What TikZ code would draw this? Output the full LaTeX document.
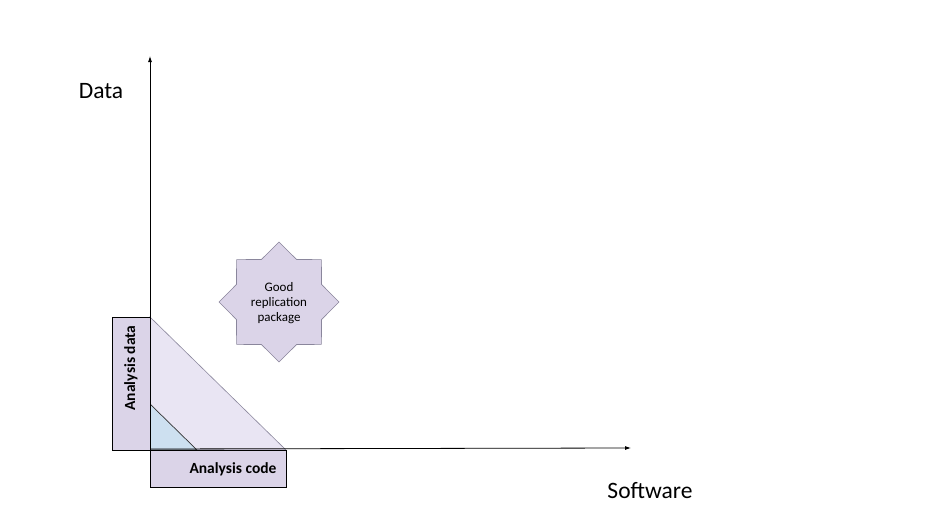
\documentclass[tikz,border=0pt]{standalone}
\usepackage{fontspec}
\setmainfont{Carlito}
\usetikzlibrary{arrows.meta}
\definecolor{lav}{HTML}{DBD4E8}
\definecolor{lavlight}{HTML}{E9E5F3}
\definecolor{lblue}{HTML}{CDE0F0}
\definecolor{stroke}{HTML}{8A869C}
\tikzset{
  axis/.style={line width=0.8pt,-{Latex[length=6pt,width=4pt]}},
  labelbox/.style={draw=black,line width=1.1pt,fill=lav},
  lbl/.style={font=\fontsize{23.5}{28}\selectfont},
  boxtxt/.style={font=\bfseries\fontsize{15.5}{18}\selectfont},
}
\begin{document}
\begin{tikzpicture}[x=1pt,y=-1pt]
\useasboundingbox (0,0) rectangle (943,530);
\coordinate (O) at (150,449);
\coordinate (ytop) at (150,56);
\coordinate (xend) at (631,448);
% big triangle
\filldraw[fill=lavlight,draw=stroke,line width=0.6pt] (150,317) -- (286,450) -- (150,450) -- cycle;
% small triangle
\filldraw[fill=lblue,draw=black!80,line width=0.7pt] (150,404) -- (197,450) -- (150,450) -- cycle;
% boxes
\node[labelbox,minimum width=38pt,minimum height=133pt,inner sep=0pt,anchor=north west] (adata) at (112,317) {};
\node[boxtxt,rotate=90] (adatat) at (131,368) {Analysis data};
\node[labelbox,minimum width=136pt,minimum height=37pt,inner sep=0pt,anchor=north west] (acode) at (150,450) {};
\node[boxtxt] (acodet) at (233,469) {Analysis code};
% axes
\draw[axis] (O) -- (ytop);
\draw[axis] (O) -- (xend);
\node[lbl] (data) at (101,91) {Data};
\node[lbl] (sw) at (650,491) {Software};
% star
\filldraw[fill=lav,draw=stroke,line width=0.6pt]
  (279,242)
  \foreach \i in {1,...,15} {
    -- ({279+ (mod(\i,2)==0 ? 60 : 46)*sin(\i*22.5)}, {302- (mod(\i,2)==0 ? 60 : 46)*cos(\i*22.5)})
  } -- cycle;
\node[align=center,font=\fontsize{13}{14.8}\selectfont] (star) at (279,303) {Good\\replication\\package};
\end{tikzpicture}
\end{document}
